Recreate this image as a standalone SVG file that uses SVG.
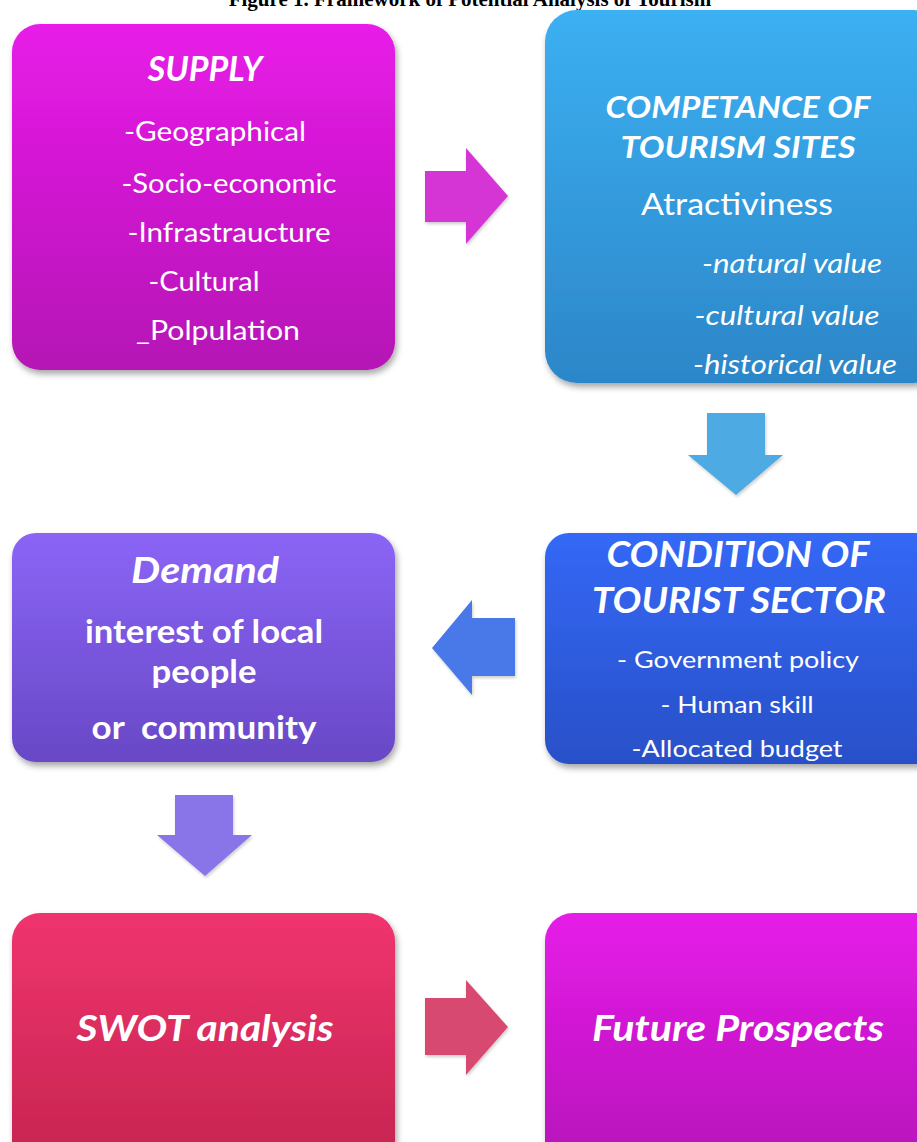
<svg xmlns="http://www.w3.org/2000/svg" width="917" height="1142" viewBox="0 0 917 1142">
<defs>
<linearGradient id="gMag" x1="0" y1="0" x2="0" y2="1"><stop offset="0" stop-color="#e81ce8"/><stop offset="1" stop-color="#b512b5"/></linearGradient>
<linearGradient id="gSky" x1="0" y1="0" x2="0" y2="1"><stop offset="0" stop-color="#3bb0f2"/><stop offset="1" stop-color="#2c86c8"/></linearGradient>
<linearGradient id="gBlue" x1="0" y1="0" x2="0" y2="1"><stop offset="0" stop-color="#3468f6"/><stop offset="1" stop-color="#2850c8"/></linearGradient>
<linearGradient id="gPur" x1="0" y1="0" x2="0" y2="1"><stop offset="0" stop-color="#8b65f6"/><stop offset="1" stop-color="#6848c6"/></linearGradient>
<linearGradient id="gRed" x1="0" y1="0" x2="0" y2="1"><stop offset="0" stop-color="#f0346e"/><stop offset="1" stop-color="#c4244f"/></linearGradient>
<linearGradient id="gMag2" x1="0" y1="0" x2="0" y2="1"><stop offset="0" stop-color="#e61ce8"/><stop offset="1" stop-color="#b514b8"/></linearGradient>
<filter id="sh" x="-10%" y="-10%" width="120%" height="120%"><feDropShadow dx="2" dy="4" stdDeviation="3" flood-color="#000" flood-opacity="0.35"/></filter>
<filter id="ash" x="-10%" y="-10%" width="130%" height="130%"><feDropShadow dx="1" dy="2" stdDeviation="1.5" flood-color="#000" flood-opacity="0.2"/></filter>
<filter id="bl" x="-50%" y="-5%" width="200%" height="110%"><feGaussianBlur stdDeviation="1.5"/></filter>
</defs>
<style>
.box{filter:url(#sh);}
.hl{fill:none;stroke:#ffffff;stroke-opacity:0.3;stroke-width:5;filter:url(#bl);}
.t{fill:#ffffff;font-family:Lato,"Open Sans",sans-serif;text-anchor:middle;}
.bi{font-weight:bold;font-style:italic;}
.b{font-weight:bold;}
.i{font-style:italic;}
.title{font-family:"Liberation Serif",serif;font-weight:bold;font-size:21px;fill:#000;text-anchor:middle;}
</style>
<rect width="917" height="1142" fill="#ffffff"/>
<text class="title" x="470" y="6">Figure 1. Framework of Potential Analysis of Tourism</text>

<g id="supply">
<rect class="box" x="12" y="24" width="383" height="346" rx="28" fill="url(#gMag)"/>
<path class="hl" d="M26 60 V330"/><path class="hl" d="M381 60 V330"/>
<text class="t bi" x="205" y="81" font-size="34">SUPPLY</text>
<text class="t" x="215" y="141" font-size="26" textLength="182" lengthAdjust="spacingAndGlyphs">-Geographical</text>
<text class="t" x="229" y="193" font-size="26" textLength="215" lengthAdjust="spacingAndGlyphs">-Socio-economic</text>
<text class="t" x="229" y="242" font-size="26" textLength="203" lengthAdjust="spacingAndGlyphs">-Infrastraucture</text>
<text class="t" x="204" y="291" font-size="26" textLength="111" lengthAdjust="spacingAndGlyphs">-Cultural</text>
<text class="t" x="218" y="340" font-size="26" textLength="164" lengthAdjust="spacingAndGlyphs">_Polpulation</text>
</g>

<g id="competance">
<rect class="box" x="545" y="10" width="400" height="373" rx="32" fill="url(#gSky)"/>
<path class="hl" d="M560 45 V345"/>
<text class="t bi" x="738" y="118" font-size="31" textLength="265" lengthAdjust="spacingAndGlyphs">COMPETANCE OF</text>
<text class="t bi" x="738" y="158" font-size="31" textLength="235" lengthAdjust="spacingAndGlyphs">TOURISM SITES</text>
<text class="t" x="737" y="215" font-size="31" textLength="192" lengthAdjust="spacingAndGlyphs">Atractiviness</text>
<text class="t i" x="792" y="273" font-size="27" textLength="180" lengthAdjust="spacingAndGlyphs">-natural value</text>
<text class="t i" x="787" y="325" font-size="27" textLength="185" lengthAdjust="spacingAndGlyphs">-cultural value</text>
<text class="t i" x="795" y="374" font-size="27" textLength="204" lengthAdjust="spacingAndGlyphs">-historical value</text>
</g>

<g id="condition">
<rect class="box" x="545" y="533" width="400" height="231" rx="24" fill="url(#gBlue)"/>
<path class="hl" d="M560 555 V740"/>
<text class="t bi" x="738" y="567" font-size="37" textLength="263" lengthAdjust="spacingAndGlyphs">CONDITION OF</text>
<text class="t bi" x="739" y="613" font-size="37" textLength="294" lengthAdjust="spacingAndGlyphs">TOURIST SECTOR</text>
<text class="t" x="738" y="668" font-size="24" textLength="242" lengthAdjust="spacingAndGlyphs">- Government policy</text>
<text class="t" x="737" y="713" font-size="24" textLength="153" lengthAdjust="spacingAndGlyphs">- Human skill</text>
<text class="t" x="737" y="757" font-size="24" textLength="211" lengthAdjust="spacingAndGlyphs">-Allocated budget</text>
</g>

<g id="demand">
<rect class="box" x="12" y="533" width="383" height="229" rx="24" fill="url(#gPur)"/>
<path class="hl" d="M26 555 V740"/><path class="hl" d="M381 555 V740"/>
<text class="t bi" x="205" y="583" font-size="36" textLength="148" lengthAdjust="spacingAndGlyphs">Demand</text>
<text class="t b" x="204" y="643" font-size="32" textLength="238" lengthAdjust="spacingAndGlyphs">interest of local</text>
<text class="t b" x="204" y="683" font-size="32" textLength="105" lengthAdjust="spacingAndGlyphs">people</text>
<text class="t b" x="204" y="739" font-size="32" textLength="225" lengthAdjust="spacingAndGlyphs" xml:space="preserve">or  community</text>
</g>

<g id="swot">
<rect class="box" x="12" y="913" width="383" height="260" rx="28" fill="url(#gRed)"/>
<path class="hl" d="M26 940 V1142"/><path class="hl" d="M381 940 V1142"/>
<text class="t bi" x="205" y="1041" font-size="36" textLength="257" lengthAdjust="spacingAndGlyphs">SWOT analysis</text>
</g>

<g id="future">
<rect class="box" x="545" y="913" width="400" height="260" rx="28" fill="url(#gMag2)"/>
<path class="hl" d="M560 940 V1142"/>
<text class="t bi" x="738" y="1041" font-size="36" textLength="292" lengthAdjust="spacingAndGlyphs">Future Prospects</text>
</g>

<g id="connectors" filter="url(#ash)">
<path d="M425 171 H466 V148 L508 196 L466 244 V222 H425 Z" fill="#d436d4"/>
<path d="M707 413 H765 V455 H783 L736 495 L688 455 H707 Z" fill="#4eaae2"/>
<path d="M515 618 V676 H472 V695 L432 648 L472 600 V618 Z" fill="#4a78e8"/>
<path d="M175 795 H233 V835 H252 L205 876 L157 835 H175 Z" fill="#8a74e8"/>
<path d="M425 998 H466 V980 L508 1027 L466 1075 V1055 H425 Z" fill="#d84a72"/>
</g>
</svg>
